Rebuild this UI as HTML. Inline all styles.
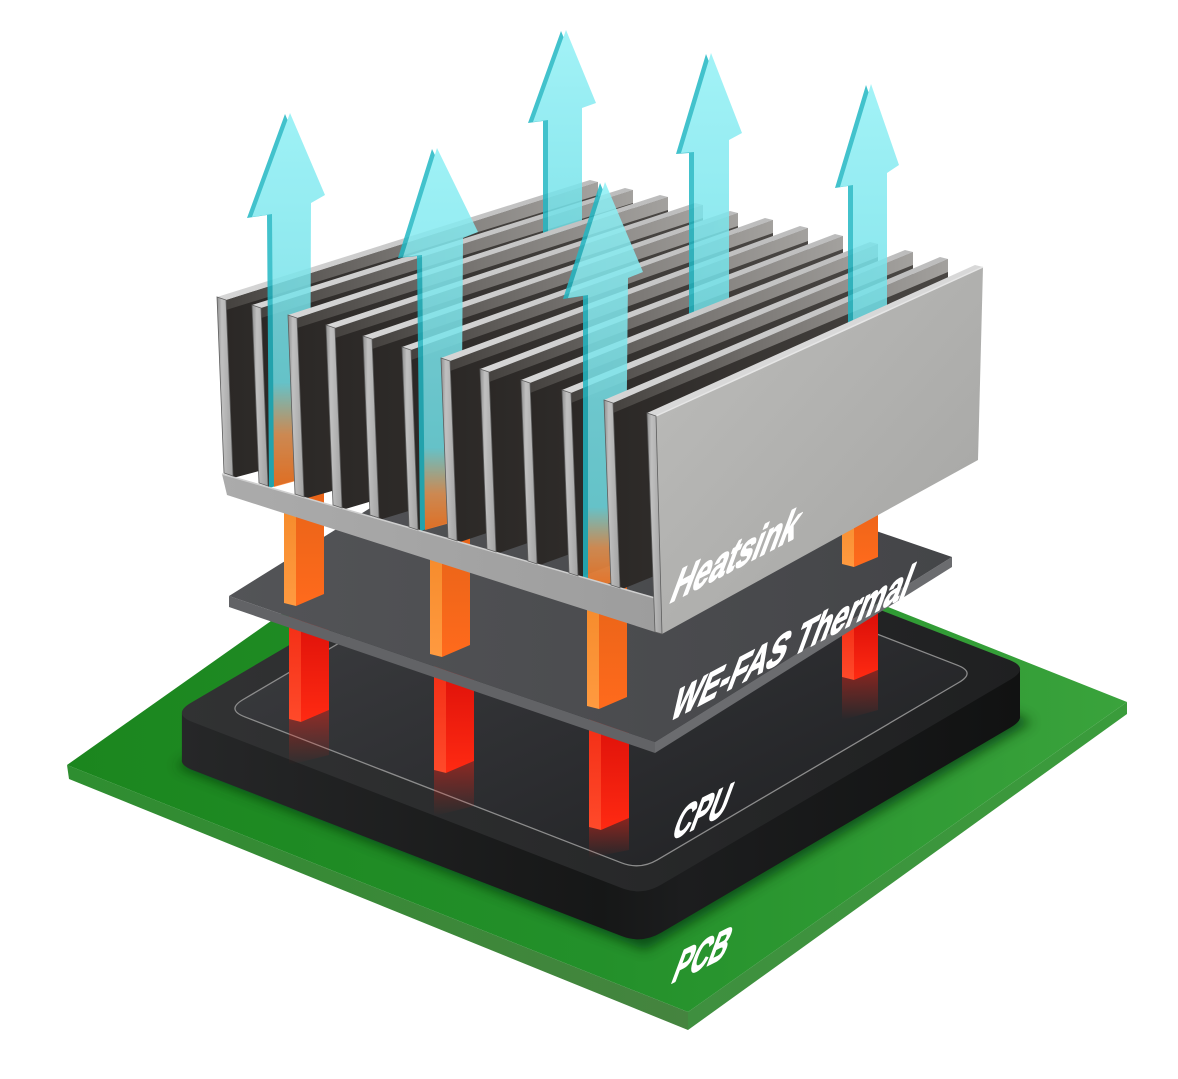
<!DOCTYPE html>
<html><head><meta charset="utf-8"><style>html,body{margin:0;padding:0;background:#fff;width:1178px;height:1079px;overflow:hidden}svg{display:block}</style></head>
<body>
<svg width="1178" height="1079" viewBox="0 0 1178 1079" xmlns="http://www.w3.org/2000/svg">
<defs>
<linearGradient id="gPcbTop" gradientUnits="userSpaceOnUse" x1="67" y1="0" x2="1127" y2="0"><stop offset="0" stop-color="#1b861e"/><stop offset="0.5" stop-color="#23902a"/><stop offset="1" stop-color="#3aa33c"/></linearGradient>
<linearGradient id="gPcbL" gradientUnits="userSpaceOnUse" x1="67" y1="0" x2="688" y2="0"><stop offset="0" stop-color="#2e8e30"/><stop offset="1" stop-color="#45843f"/></linearGradient>
<linearGradient id="gPcbR" gradientUnits="userSpaceOnUse" x1="688" y1="0" x2="1127" y2="0"><stop offset="0" stop-color="#3f8f3f"/><stop offset="1" stop-color="#3a9c3b"/></linearGradient>
<linearGradient id="gCpuSide" gradientUnits="userSpaceOnUse" x1="182" y1="0" x2="1020" y2="0"><stop offset="0" stop-color="#262728"/><stop offset="0.5" stop-color="#161717"/><stop offset="0.6" stop-color="#1c1d1e"/><stop offset="1" stop-color="#111212"/></linearGradient>
<linearGradient id="gCpuTop" x1="0" y1="0" x2="1" y2="0"><stop offset="0" stop-color="#313233"/><stop offset="1" stop-color="#1f2021"/></linearGradient>
<linearGradient id="gLid" x1="0" y1="0" x2="1" y2="1"><stop offset="0" stop-color="#404144"/><stop offset="0.55" stop-color="#2d2e31"/><stop offset="1" stop-color="#1d1e20"/></linearGradient>
<linearGradient id="gPadTop" x1="0" y1="0" x2="1" y2="0"><stop offset="0" stop-color="#535457"/><stop offset="1" stop-color="#444548"/></linearGradient>
<linearGradient id="gU" x1="0" y1="0" x2="0" y2="1"><stop offset="0" stop-color="#e86418"/><stop offset="1" stop-color="#ff6a1c"/></linearGradient>
<linearGradient id="gUL" x1="0" y1="0" x2="0" y2="1"><stop offset="0" stop-color="#f58a2a"/><stop offset="1" stop-color="#ff9a40"/></linearGradient>
<linearGradient id="gL" x1="0" y1="0" x2="0" y2="1"><stop offset="0" stop-color="#d80c08"/><stop offset="1" stop-color="#ff2a12"/></linearGradient>
<linearGradient id="gLL" x1="0" y1="0" x2="0" y2="1"><stop offset="0" stop-color="#f22c14"/><stop offset="1" stop-color="#ff4a2a"/></linearGradient>
<linearGradient id="gRefl" x1="0" y1="0" x2="0" y2="1"><stop offset="0" stop-color="#ff2010" stop-opacity="0.45"/><stop offset="1" stop-color="#ff2010" stop-opacity="0"/></linearGradient>
<linearGradient id="gSide" x1="0" y1="0" x2="1" y2="0"><stop offset="0" stop-color="#2b2826"/><stop offset="1" stop-color="#4a4744"/></linearGradient>
<linearGradient id="gBand" x1="0" y1="0" x2="1" y2="0"><stop offset="0" stop-color="#45423f"/><stop offset="0.5" stop-color="#7a7774"/><stop offset="1" stop-color="#a3a19e"/></linearGradient>
<linearGradient id="gTop" x1="0" y1="0" x2="1" y2="0"><stop offset="0" stop-color="#d6d6d6"/><stop offset="1" stop-color="#bcbcbc"/></linearGradient>
<linearGradient id="gStrip" x1="0" y1="0" x2="1" y2="0"><stop offset="0" stop-color="#8e8e8e"/><stop offset="0.3" stop-color="#c0c0c0"/><stop offset="1" stop-color="#a2a2a2"/></linearGradient>
<linearGradient id="gBase" x1="0" y1="0" x2="1" y2="0"><stop offset="0" stop-color="#ababab"/><stop offset="1" stop-color="#9d9d9d"/></linearGradient>
<linearGradient id="gRight" x1="0" y1="0" x2="1" y2="1"><stop offset="0" stop-color="#bdbdbb"/><stop offset="1" stop-color="#a4a4a2"/></linearGradient>
<linearGradient id="gCy" x1="0" y1="0" x2="0" y2="1"><stop offset="0" stop-color="#93f1f6"/><stop offset="1" stop-color="#6fe0e8"/></linearGradient>
<linearGradient id="gA1" gradientUnits="userSpaceOnUse" x1="0" y1="113" x2="0" y2="487"><stop offset="0" stop-color="#8ef0f5"/><stop offset="0.72" stop-color="#6fdde5"/><stop offset="0.86" stop-color="#e89a5a"/><stop offset="1" stop-color="#ff7a22"/></linearGradient>
<linearGradient id="gA2" gradientUnits="userSpaceOnUse" x1="0" y1="148" x2="0" y2="532"><stop offset="0" stop-color="#8ef0f5"/><stop offset="0.78" stop-color="#6fdde5"/><stop offset="0.9" stop-color="#e89a5a"/><stop offset="1" stop-color="#ff7a22"/></linearGradient>
<linearGradient id="gA6" gradientUnits="userSpaceOnUse" x1="0" y1="182" x2="0" y2="588"><stop offset="0" stop-color="#8ef0f5"/><stop offset="0.8" stop-color="#6fdde5"/><stop offset="0.9" stop-color="#e89a5a"/><stop offset="1" stop-color="#ff7a22"/></linearGradient>
<filter id="blur6" x="-20%" y="-20%" width="140%" height="140%"><feGaussianBlur stdDeviation="6"/></filter>
</defs>

<!-- PCB -->
<polygon points="67,765 688,1012 688,1030 69,779" fill="url(#gPcbL)"/>
<polygon points="688,1012 1127,702 1127,714 688,1030" fill="url(#gPcbR)"/>
<polygon points="67,765 506,455 1127,702 688,1012" fill="url(#gPcbTop)"/>
<polygon points="176,766 645,950 1032,722 600,520" fill="#063008" opacity="0.7" filter="url(#blur6)"/>

<!-- CPU -->
<g transform="translate(0,48)">
<path d="M192.5,722 L621.5,888 Q642,896 661,884.8 L1011,679.2 Q1030,668 1009.5,660 L580.5,494 Q560,486 541,497.2 L191,702.8 Q172,714 192.5,722 Z" fill="url(#gCpuSide)"/>
</g>
<polygon points="181.9,713.2 641.6,891.2 1020,668.8 1020,716.8 641.6,939.2 181.9,761.2" fill="url(#gCpuSide)"/>
<path d="M192.5,722 L621.5,888 Q642,896 661,884.8 L1011,679.2 Q1030,668 1009.5,660 L580.5,494 Q560,486 541,497.2 L191,702.8 Q172,714 192.5,722 Z" fill="url(#gCpuTop)"/>
<path d="M244.7,716.8 L621.4,862.8 Q640,870 657.2,859.9 L958.8,682.5 Q976,672.4 957.4,665.2 L580.7,519.2 Q562,512 544.8,522.1 L243.2,699.5 Q226,709.6 244.7,716.8 Z" fill="url(#gLid)" stroke="#8c8c8c" stroke-width="1.3"/>

<!-- red reflections -->
<polygon points="289,719 301,722 329,710 329,755 289,765" fill="url(#gRefl)"/>
<polygon points="434,770 446,773 474,761 474,806 434,816" fill="url(#gRefl)"/>
<polygon points="589,827 601,830 629,818 629,850 589,858" fill="url(#gRefl)"/>
<polygon points="842,677 854,680 878,670 878,710 842,720" fill="url(#gRefl)"/>

<!-- lower red bars -->
<polygon points="289,610 301,613 301,722 289,719" fill="url(#gLL)"/>
<polygon points="301,613 329,601 329,710 301,722" fill="url(#gL)"/>
<polygon points="434,660 446,663 446,773 434,770" fill="url(#gLL)"/>
<polygon points="446,663 474,651 474,761 446,773" fill="url(#gL)"/>
<polygon points="589,712 601,715 601,830 589,827" fill="url(#gLL)"/>
<polygon points="601,715 629,703 629,818 601,830" fill="url(#gL)"/>
<polygon points="842,615 854,618 854,680 842,677" fill="url(#gLL)"/>
<polygon points="854,618 878,608 878,670 854,680" fill="url(#gL)"/>

<!-- Thermal pad -->
<polygon points="229,596 655,742 655,753 229,607" fill="#626366"/>
<polygon points="655,742 952,557 952,567 655,753" fill="#6b6c6f"/>
<polygon points="229,596 526,411 952,557 655,742" fill="url(#gPadTop)"/>

<!-- upper orange bars -->
<polygon points="284,500 296,503 296,606 284,603" fill="url(#gUL)"/>
<polygon points="296,503 324,491 324,594 296,606" fill="url(#gU)"/>
<polygon points="430,545 442,548 442,657 430,654" fill="url(#gUL)"/>
<polygon points="442,548 470,536 470,645 442,657" fill="url(#gU)"/>
<polygon points="587,595 599,598 599,709 587,706" fill="url(#gUL)"/>
<polygon points="599,598 627,586 627,697 599,709" fill="url(#gU)"/>
<polygon points="842,500 854,503 854,567 842,564" fill="url(#gUL)"/>
<polygon points="854,503 878,493 878,557 854,567" fill="url(#gU)"/>

<!-- Heatsink fins -->
<polygon points="226,300 598,182 598,380 233,478" fill="url(#gSide)"/>
<polygon points="226,300 598,182 598,195 226,310" fill="url(#gBand)"/>
<polygon points="217,297 590,180 598,182 226,300" fill="url(#gTop)"/>
<polygon points="261,308 633,190 633,388 268,488" fill="url(#gSide)"/>
<polygon points="261,308 633,190 633,203 261,318" fill="url(#gBand)"/>
<polygon points="252,305 625,188 633,190 261,308" fill="url(#gTop)"/>

<!-- A3 (back) -->
<g opacity="0.85">
<path d="M561,31 L591,104 L577,109 L577,241 L543,251 L543,121 L528,123 Z" fill="#22b8c4"/>
<path d="M566,30 L596,103 L582,108 L582,240 L548,250 L548,120 L533,122 Z" fill="url(#gCy)"/>
</g>
<!-- A1 (front) -->
<g opacity="0.85">
<path d="M285,114 L320,196 L306,204 L305,478 L269,488 L267,215 L247,218 Z" fill="#22b8c4"/>
<path d="M290,113 L325,195 L311,203 L310,477 L274,487 L272,214 L252,217 Z" fill="url(#gA1)"/>
</g>

<polygon points="297,318 668,197 668,395 304,499" fill="url(#gSide)"/>
<polygon points="297,318 668,197 668,210 297,328" fill="url(#gBand)"/>
<polygon points="288,315 660,195 668,197 297,318" fill="url(#gTop)"/>
<polygon points="335,328 703,205 703,403 342,510" fill="url(#gSide)"/>
<polygon points="335,328 703,205 703,218 335,338" fill="url(#gBand)"/>
<polygon points="326,325 695,203 703,205 335,328" fill="url(#gTop)"/>
<polygon points="372,339 738,213 738,411 379,520" fill="url(#gSide)"/>
<polygon points="372,339 738,213 738,226 372,349" fill="url(#gBand)"/>
<polygon points="363,336 730,211 738,213 372,339" fill="url(#gTop)"/>
<polygon points="411,350 773,220 773,418 418,532" fill="url(#gSide)"/>
<polygon points="411,350 773,220 773,233 411,360" fill="url(#gBand)"/>
<polygon points="402,347 765,218 773,220 411,350" fill="url(#gTop)"/>

<!-- A2 -->
<g opacity="0.85">
<path d="M432,149 L473,233 L458,239 L456,521 L420,531 L417,256 L398,258 Z" fill="#22b8c4"/>
<path d="M437,148 L478,232 L463,238 L461,520 L425,530 L422,255 L403,257 Z" fill="url(#gA2)"/>
</g>

<polygon points="450,361 808,228 808,426 457,543" fill="url(#gSide)"/>
<polygon points="450,361 808,228 808,241 450,371" fill="url(#gBand)"/>
<polygon points="441,358 800,226 808,228 450,361" fill="url(#gTop)"/>
<polygon points="489,372 843,236 843,434 496,554" fill="url(#gSide)"/>
<polygon points="489,372 843,236 843,249 489,382" fill="url(#gBand)"/>
<polygon points="480,369 835,234 843,236 489,372" fill="url(#gTop)"/>

<!-- A4 -->
<g opacity="0.85">
<path d="M706,54 L737,134 L724,141 L724,321 L689,331 L689,153 L676,154 Z" fill="#22b8c4"/>
<path d="M711,53 L742,133 L729,140 L729,320 L694,330 L694,152 L681,153 Z" fill="url(#gCy)"/>
</g>

<polygon points="530,383 878,244 878,442 537,566" fill="url(#gSide)"/>
<polygon points="530,383 878,244 878,257 530,393" fill="url(#gBand)"/>
<polygon points="521,380 870,242 878,244 530,383" fill="url(#gTop)"/>
<polygon points="571,393 913,252 913,450 578,578" fill="url(#gSide)"/>
<polygon points="571,393 913,252 913,265 571,403" fill="url(#gBand)"/>
<polygon points="562,390 905,250 913,252 571,393" fill="url(#gTop)"/>

<!-- A6 -->
<g opacity="0.85">
<path d="M600,183 L638,273 L623,279 L620,581 L583,589 L583,296 L563,299 Z" fill="#22b8c4"/>
<path d="M605,182 L643,272 L628,278 L625,580 L588,588 L588,295 L568,298 Z" fill="url(#gA6)"/>
</g>

<polygon points="613,403 948,259 948,457 620,590" fill="url(#gSide)"/>
<polygon points="613,403 948,259 948,272 613,413" fill="url(#gBand)"/>
<polygon points="604,400 940,257 948,259 613,403" fill="url(#gTop)"/>

<!-- A5 -->
<g opacity="0.85">
<path d="M866,85 L894,166 L882,174 L882,331 L848,341 L848,186 L835,188 Z" fill="#22b8c4"/>
<path d="M871,84 L899,165 L887,173 L887,330 L853,340 L853,185 L840,187 Z" fill="url(#gCy)"/>
</g>

<!-- outer fin / right face -->
<polygon points="656,416 983,267 978,460 662,634" fill="url(#gRight)"/>
<polygon points="647,413 975,265 983,267 656,416" fill="#d8d8d8"/>
<line x1="656" y1="416" x2="983" y2="267" stroke="#e6e6e6" stroke-width="1.5"/>

<!-- base front face -->
<polygon points="222,474 655,598 655,632 227,495" fill="url(#gBase)"/>
<line x1="222" y1="474" x2="655" y2="598" stroke="#cfcfcf" stroke-width="1.5"/>

<!-- front strips -->
<g stroke="#5e5e5e" stroke-width="0.8">
<polygon points="217,297 226,300 233,476 224,473" fill="url(#gStrip)"/>
<polygon points="252,305 261,308 268,486 259,483" fill="url(#gStrip)"/>
<polygon points="288,315 297,318 304,497 295,494" fill="url(#gStrip)"/>
<polygon points="326,325 335,328 342,508 333,505" fill="url(#gStrip)"/>
<polygon points="363,336 372,339 379,518 370,515" fill="url(#gStrip)"/>
<polygon points="402,347 411,350 418,530 409,527" fill="url(#gStrip)"/>
<polygon points="441,358 450,361 457,541 448,538" fill="url(#gStrip)"/>
<polygon points="480,369 489,372 496,552 487,549" fill="url(#gStrip)"/>
<polygon points="521,380 530,383 537,564 528,561" fill="url(#gStrip)"/>
<polygon points="562,390 571,393 578,576 569,573" fill="url(#gStrip)"/>
<polygon points="604,400 613,403 620,588 611,585" fill="url(#gStrip)"/>
<polygon points="647,413 656,416 662,634 655,632" fill="url(#gStrip)"/>
</g>

<!-- labels -->
<g font-family="'Liberation Sans', Arial, sans-serif" font-weight="bold" fill="#ffffff" stroke="#ffffff" stroke-width="1.6" stroke-linejoin="round">
<text transform="matrix(0.6,-0.312,-0.37,1,668,604)" font-size="50">Heatsink</text>
<text transform="matrix(0.615,-0.326,-0.37,1,668,722)" font-size="48">WE-FAS Thermal</text>
<text transform="matrix(0.53,-0.26,-0.37,1,670,841)" font-size="48">CPU</text>
<text transform="matrix(0.53,-0.26,-0.37,1,670,984)" font-size="48">PCB</text>
</g>
</svg>
</body></html>
